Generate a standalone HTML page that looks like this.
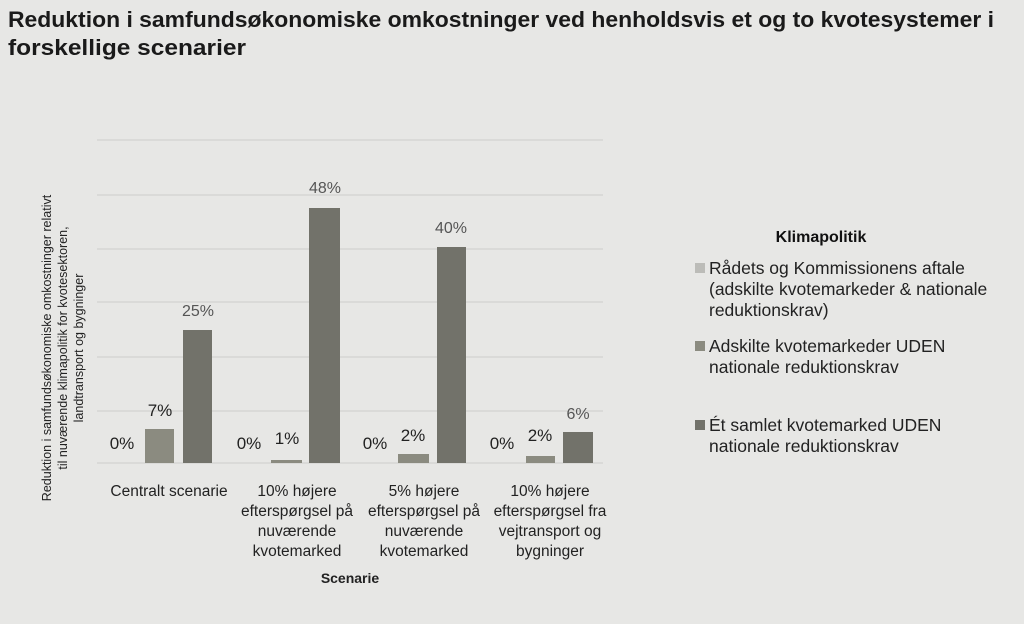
<!DOCTYPE html>
<html><head><meta charset="utf-8"><style>
body{margin:0;width:1024px;height:619px;background:#e7e7e5;font-family:"Liberation Sans",sans-serif;overflow:hidden}
</style></head><body>
<svg width="1024" height="619" xmlns="http://www.w3.org/2000/svg" font-family="Liberation Sans, sans-serif">
<rect width="1024" height="619" fill="#e7e7e5"/>
<text x="8" y="27" font-size="22" font-weight="bold" fill="#1a1a1a" textLength="986" lengthAdjust="spacingAndGlyphs">Reduktion i samfundsøkonomiske omkostninger ved henholdsvis et og to kvotesystemer i</text>
<text x="8" y="55" font-size="22" font-weight="bold" fill="#1a1a1a" textLength="238" lengthAdjust="spacingAndGlyphs">forskellige scenarier</text>
<g stroke="#d6d6d4" stroke-width="1.5">
<line x1="97" x2="603" y1="140" y2="140"/><line x1="97" x2="603" y1="195" y2="195"/>
<line x1="97" x2="603" y1="249" y2="249"/><line x1="97" x2="603" y1="302" y2="302"/>
<line x1="97" x2="603" y1="357" y2="357"/><line x1="97" x2="603" y1="411" y2="411"/>
<line x1="97" x2="603" y1="463" y2="463"/>
</g>
<g fill="#8b8b80">
<rect x="145" y="429" width="29" height="34"/><rect x="271" y="460" width="31" height="3"/>
<rect x="398" y="454" width="31" height="9"/><rect x="526" y="456" width="29" height="7"/>
</g>
<g fill="#72726a">
<rect x="183" y="330" width="29" height="133"/><rect x="309" y="208" width="31" height="255"/>
<rect x="437" y="247" width="29" height="216"/><rect x="563" y="432" width="30" height="31"/>
</g>
<g font-size="17" fill="#222" text-anchor="middle">
<text x="122" y="449">0%</text><text x="249" y="449">0%</text><text x="375" y="449">0%</text><text x="502" y="449">0%</text>
<text x="160" y="416">7%</text><text x="287" y="444">1%</text><text x="413" y="441">2%</text><text x="540" y="441">2%</text>
</g>
<g font-size="16" fill="#555" text-anchor="middle">
<text x="198" y="316">25%</text><text x="325" y="193">48%</text><text x="451" y="233">40%</text><text x="578" y="419">6%</text>
</g>
<g font-size="15.5" fill="#222" text-anchor="middle">
<text x="169" y="496">Centralt scenarie</text>
<text x="297" y="496">10% højere</text><text x="297" y="516">efterspørgsel på</text><text x="297" y="536">nuværende</text><text x="297" y="556">kvotemarked</text>
<text x="424" y="496">5% højere</text><text x="424" y="516">efterspørgsel på</text><text x="424" y="536">nuværende</text><text x="424" y="556">kvotemarked</text>
<text x="550" y="496">10% højere</text><text x="550" y="516">efterspørgsel fra</text><text x="550" y="536">vejtransport og</text><text x="550" y="556">bygninger</text>
</g>
<text x="350" y="583" font-size="14" font-weight="bold" fill="#222" text-anchor="middle">Scenarie</text>
<g font-size="12.5" fill="#222" text-anchor="middle">
<text transform="translate(51,348) rotate(-90)">Reduktion i samfundsøkonomiske omkostninger relativt</text>
<text transform="translate(67,348) rotate(-90)">til nuværende klimapolitik for kvotesektoren,</text>
<text transform="translate(83,348) rotate(-90)">landtransport og bygninger</text>
</g>
<text x="821" y="242" font-size="16" font-weight="bold" fill="#111" text-anchor="middle">Klimapolitik</text>
<rect x="695" y="263" width="10" height="10" fill="#bcbcb8"/>
<rect x="695" y="341" width="10" height="10" fill="#8b8b80"/>
<rect x="695" y="420" width="10" height="10" fill="#72726a"/>
<g font-size="17.5" fill="#222">
<text x="709" y="274">Rådets og Kommissionens aftale</text>
<text x="709" y="295">(adskilte kvotemarkeder &amp; nationale</text>
<text x="709" y="316">reduktionskrav)</text>
<text x="709" y="352">Adskilte kvotemarkeder UDEN</text>
<text x="709" y="373">nationale reduktionskrav</text>
<text x="709" y="431">Ét samlet kvotemarked UDEN</text>
<text x="709" y="452">nationale reduktionskrav</text>
</g>
</svg>
</body></html>
